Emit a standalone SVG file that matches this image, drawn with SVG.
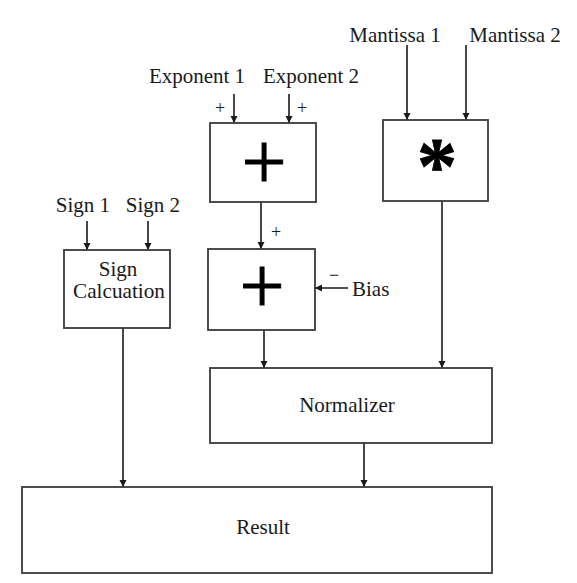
<svg xmlns="http://www.w3.org/2000/svg" width="577" height="583" viewBox="0 0 577 583">
<defs>
<marker id="arr" markerWidth="8" markerHeight="8" refX="7" refY="4" orient="auto" markerUnits="userSpaceOnUse">
<path d="M0,0.5 L7,4 L0,7.5 Z" fill="#1a1a1a"/>
</marker>
</defs>
<style>
.box{fill:#fff;stroke:#3a3a3a;stroke-width:1.8}
.lbl{font-family:"Liberation Serif","Times New Roman",serif;font-size:21px;fill:#1a1a1a}
.sm{font-family:"Liberation Serif","Times New Roman",serif;font-size:18px;fill:#1a1a1a}
.big{font-family:"Liberation Serif","Times New Roman",serif;font-size:80px;fill:#000;stroke:#000;stroke-width:0.9}
.con{fill:none;stroke:#1a1a1a;stroke-width:1.6;marker-end:url(#arr)}
</style>
<rect width="577" height="583" fill="#fff"/>
<g id="connectors">
<line class="con" x1="234" y1="94" x2="234" y2="123"/>
<line class="con" x1="289" y1="94" x2="289" y2="123"/>
<line class="con" x1="407" y1="45" x2="407" y2="120"/>
<line class="con" x1="466" y1="45" x2="466" y2="120"/>
<line class="con" x1="87" y1="221" x2="87" y2="250"/>
<line class="con" x1="148" y1="221" x2="148" y2="250"/>
<line class="con" x1="261" y1="202" x2="261" y2="249"/>
<line class="con" x1="348" y1="288" x2="315" y2="288"/>
<line class="con" x1="264" y1="330" x2="264" y2="368"/>
<line class="con" x1="442" y1="201" x2="442" y2="368"/>
<line class="con" x1="123" y1="328" x2="123" y2="487"/>
<line class="con" x1="364" y1="443" x2="364" y2="487"/>
</g>
<g id="labels">
<text class="lbl" x="197" y="83" text-anchor="middle">Exponent 1</text>
<text class="lbl" x="311" y="83" text-anchor="middle">Exponent 2</text>
<text class="lbl" x="395" y="42" text-anchor="middle">Mantissa 1</text>
<text class="lbl" x="515" y="42" text-anchor="middle">Mantissa 2</text>
<text class="lbl" x="83" y="212" text-anchor="middle">Sign 1</text>
<text class="lbl" x="153" y="212" text-anchor="middle">Sign 2</text>
<text class="lbl" x="352" y="296">Bias</text>
<text class="sm" x="220" y="114" text-anchor="middle">+</text>
<text class="sm" x="302" y="114" text-anchor="middle">+</text>
<text class="sm" x="276" y="238" text-anchor="middle">+</text>
<text class="sm" x="334" y="281" text-anchor="middle" font-size="20">−</text>
</g>
<g id="exp-adder">
<rect class="box" x="210" y="123" width="106" height="79"/>
<text class="big" x="264" y="189" text-anchor="middle">+</text>
</g>
<g id="mult">
<rect class="box" x="383" y="120" width="105" height="81"/>
<text class="big" x="437" y="193" text-anchor="middle" font-size="58" font-weight="bold" stroke-width="0">*</text>
</g>
<g id="sign-calc">
<rect class="box" x="64" y="250" width="106" height="78"/>
<text class="lbl" x="118" y="276" text-anchor="middle" font-size="19.5">Sign</text>
<text class="lbl" x="119" y="298" text-anchor="middle" font-size="19.5" textLength="92" lengthAdjust="spacingAndGlyphs">Calcuation</text>
</g>
<g id="bias-adder">
<rect class="box" x="208" y="249" width="107" height="81"/>
<text class="big" x="262" y="313" text-anchor="middle">+</text>
</g>
<g id="normalizer">
<rect class="box" x="210" y="368" width="282" height="75"/>
<text class="lbl" x="347" y="412" text-anchor="middle">Normalizer</text>
</g>
<g id="result">
<rect class="box" x="22" y="487" width="470" height="86"/>
<text class="lbl" x="263" y="534" text-anchor="middle">Result</text>
</g>
</svg>
